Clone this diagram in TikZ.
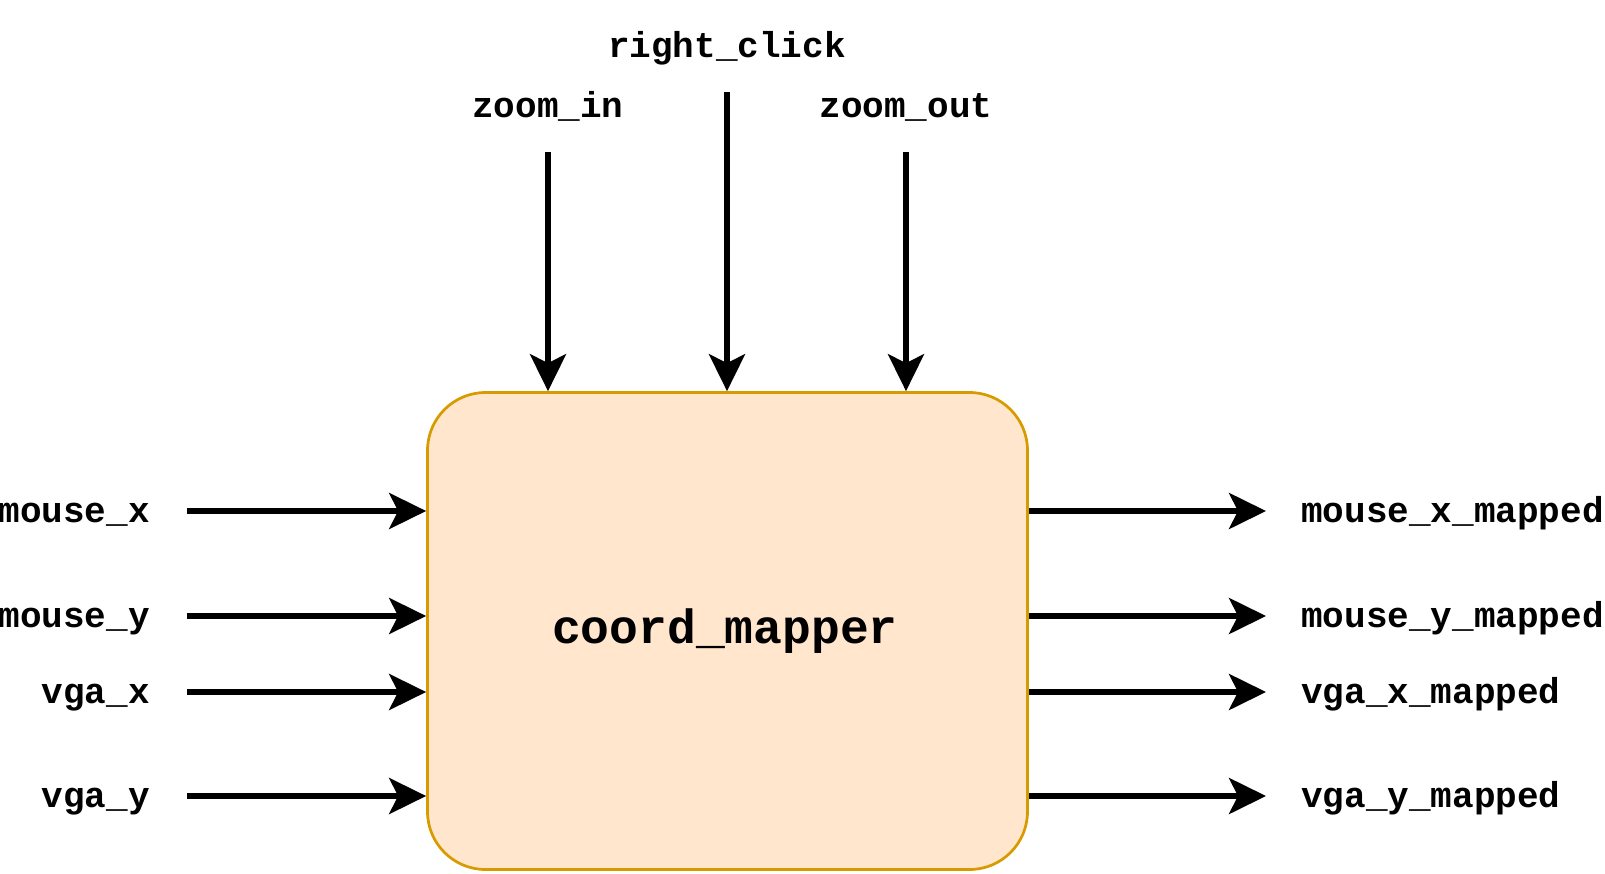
\documentclass[tikz,border=0pt]{standalone}
\usepackage{fontspec}
\newfontfamily\labelfont{Liberation Mono}
\usetikzlibrary{arrows.meta}
\definecolor{boxfill}{HTML}{FFE6CC}
\definecolor{boxdraw}{HTML}{D79B00}
\tikzset{
  sig/.style={line width=5.5pt, -{Stealth[length=37pt,width=36pt,inset=9pt]}},
  lbl/.style={inner sep=0pt, font=\labelfont\bfseries\fontsize{36pt}{40pt}\selectfont},
  blockbox/.style={draw=boxdraw, fill=boxfill, line width=2.7pt, rounded corners=58pt,
    minimum width=600pt, minimum height=477pt, inner sep=0pt},
  title/.style={inner sep=0pt, font=\labelfont\bfseries\fontsize{48pt}{52pt}\selectfont}
}
\begin{document}
\begin{tikzpicture}[x=1pt,y=-1pt]
\useasboundingbox (0,0) rectangle (1605,873);
\node[blockbox] (box) at (727.5,631) {};
\node[title, anchor=base] (name) at (725,643) {coord\_mapper};
% left inputs
\foreach \n/\t/\y in {mx/mouse\_x/511, my/mouse\_y/616, vx/vga\_x/692, vy/vga\_y/796}{
  \node[lbl, anchor=base east] (l\n) at (150,\y+11) {\t};
  \coordinate (s\n) at (187,\y);
  \draw[sig] (s\n) -- (s\n -| box.west);
}
% right outputs
\foreach \n/\t/\y in {mx/mouse\_x\_mapped/511, my/mouse\_y\_mapped/616, vx/vga\_x\_mapped/692, vy/vga\_y\_mapped/796}{
  \node[lbl, anchor=base west] (r\n) at (1301,\y+11) {\t};
  \coordinate (e\n) at (1266,\y);
  \draw[sig] (e\n -| box.east) -- (e\n);
}
% top inputs
\node[lbl, anchor=base] (zin) at (548,117) {zoom\_in};
\node[lbl, anchor=base] (rc) at (727,57) {right\_click};
\node[lbl, anchor=base] (zout) at (906,117) {zoom\_out};
\coordinate (tzin) at (548,152);
\coordinate (trc) at (727,92);
\coordinate (tzout) at (906,152);
\draw[sig] (tzin) -- (tzin |- box.north);
\draw[sig] (trc) -- (trc |- box.north);
\draw[sig] (tzout) -- (tzout |- box.north);
\end{tikzpicture}
\end{document}
